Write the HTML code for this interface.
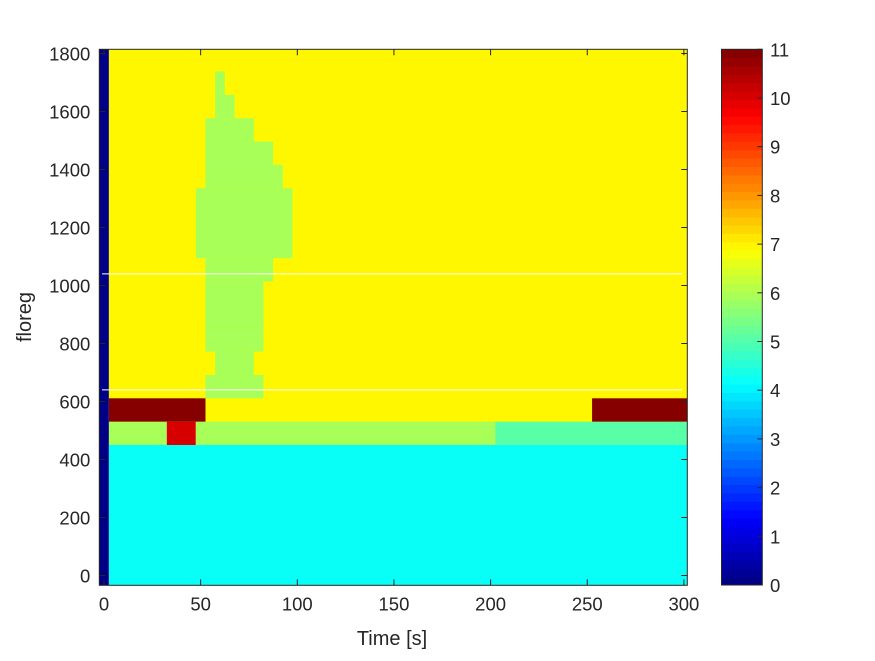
<!DOCTYPE html>
<html><head><meta charset="utf-8"><style>
body{margin:0;background:#fff;}
svg text{font-family:"Liberation Sans",Arial,sans-serif;fill:#262626;}
</style></head><body>
<svg id="chart" width="875" height="656" xmlns="http://www.w3.org/2000/svg">
<rect width="875" height="656" fill="#fff"/>
<g id="cells"></g>
<g id="axes"></g>
<g id="cbar"></g>
<text x="392" y="645" font-size="20" text-anchor="middle">Time [s]</text>
<text x="31" y="317" font-size="20" text-anchor="middle" transform="rotate(-90 31 317)">floreg</text>
</svg>
<script>
// data
const timeStep = 5;
const timeMax = 300;
const rowEdgeStart = 450;
const rowStep = 80.5;
const baseValue = 7;
const cyanValue = 4.15;
const blueValue = 0;
// rows from bottom (k=0 at floreg 450): segments [tStart, tEnd, value]
const row0 = [[5,30,6],[35,45,10],[50,200,6],[205,300,5]];
const row1 = [[5,50,11],[255,300,11]];
const blobStart = [55,60,55,55,55,55,50,50,50,55,55,55,60,60];
const blobEnd   = [80,75,80,80,80,85,95,95,95,90,85,75,65,60];
const blobValue = 6;
const xTicks = [0,50,100,150,200,250,300];
const yTicks = [0,200,400,600,800,1000,1200,1400,1600,1800];
const cTicks = [0,1,2,3,4,5,6,7,8,9,10,11];
const whiteLines = [1040,640];

const NS="http://www.w3.org/2000/svg";
const X0=99.3,X1=687.3,Y0=49.3,Y1=585.3;
const xs=t=>104+t*1.933;
const ys=v=>575.5-v*0.29;
const cmin=0,cmax=11;
function jet(v){
  let q=Math.min(63,Math.floor((v-cmin)/(cmax-cmin)*64));
  const t=(q+0.5)/64;
  const c=x=>Math.round(255*Math.max(0,Math.min(1,x)));
  return `rgb(${c(1.5-Math.abs(4*t-3))},${c(1.5-Math.abs(4*t-2))},${c(1.5-Math.abs(4*t-1))})`;
}
function mk(tag,attrs,parent){const e=document.createElementNS(NS,tag);for(const k in attrs)e.setAttribute(k,attrs[k]);parent.appendChild(e);return e;}
const cells=document.getElementById('cells');
function cell(t0,t1,v0,v1,val,name){
  const x0=Math.max(X0,xs(t0-timeStep/2)),x1=Math.min(X1,xs(t1+timeStep/2));
  const y0=Math.max(Y0,ys(v1)),y1=Math.min(Y1,ys(v0));
  const r=mk('rect',{x:x0,y:y0,width:x1-x0,height:y1-y0,fill:jet(val)},cells);
  
  
}
cell(5,timeMax,rowEdgeStart,3000,baseValue,'yellow-region');
cell(5,timeMax,-500,rowEdgeStart,cyanValue,'cyan-region');
row0.forEach(s=>cell(s[0],s[1],rowEdgeStart,rowEdgeStart+rowStep,s[2],'row0-cell'));
row1.forEach(s=>cell(s[0],s[1],rowEdgeStart+rowStep,rowEdgeStart+2*rowStep,s[2],'row1-cell'));
blobStart.forEach((s,i)=>{const k=i+2;cell(s,blobEnd[i],rowEdgeStart+k*rowStep,rowEdgeStart+(k+1)*rowStep,blobValue,'blob-cell');});
cell(0,0,-500,3000,blueValue,'time-zero-column');
whiteLines.forEach(v=>{const l=mk('line',{x1:102,x2:682,y1:ys(v),y2:ys(v),stroke:'#fff','stroke-width':1},cells);
  
  });
const ax=document.getElementById('axes');
mk('rect',{x:X0,y:Y0,width:X1-X0,height:Y1-Y0,fill:'none',stroke:'#262626','stroke-width':1},ax);
xTicks.forEach(t=>{const x=xs(t);
  mk('line',{x1:x,x2:x,y1:Y1,y2:Y1-6,stroke:'#262626'},ax);
  mk('line',{x1:x,x2:x,y1:Y0,y2:Y0+6,stroke:'#262626'},ax);
  const tx=mk('text',{x:x,y:Y1+25,'font-size':18.5,'text-anchor':'middle'},ax);tx.textContent=t;
  
  });
yTicks.forEach(v=>{const y=ys(v);
  mk('line',{x1:X0,x2:X0+6,y1:y,y2:y,stroke:'#262626'},ax);
  mk('line',{x1:X1,x2:X1-6,y1:y,y2:y,stroke:'#262626'},ax);
  const tx=mk('text',{x:X0-9,y:y+7,'font-size':18.5,'text-anchor':'end'},ax);tx.textContent=v;
  
  });
const cb=document.getElementById('cbar');
const CX0=721.5,CX1=762.3,CY0=49.3,CY1=585;
const cy=v=>CY1-(v-cmin)/(cmax-cmin)*(CY1-CY0);
for(let i=0;i<64;i++){
  const v0=cmin+i*(cmax-cmin)/64,v1=cmin+(i+1)*(cmax-cmin)/64;
  const r=mk('rect',{x:CX0,y:cy(v1),width:CX1-CX0,height:cy(v0)-cy(v1)+0.5,fill:jet((v0+v1)/2)},cb);
  
  
}
mk('rect',{x:CX0,y:CY0,width:CX1-CX0,height:CY1-CY0,fill:'none',stroke:'#262626'},cb);
cTicks.forEach(v=>{const y=cy(v);
  mk('line',{x1:CX1,x2:CX1-5,y1:y,y2:y,stroke:'#262626'},cb);
  const tx=mk('text',{x:770,y:y+7,'font-size':18.5},cb);tx.textContent=v;
  
  });
</script>
</body></html>
